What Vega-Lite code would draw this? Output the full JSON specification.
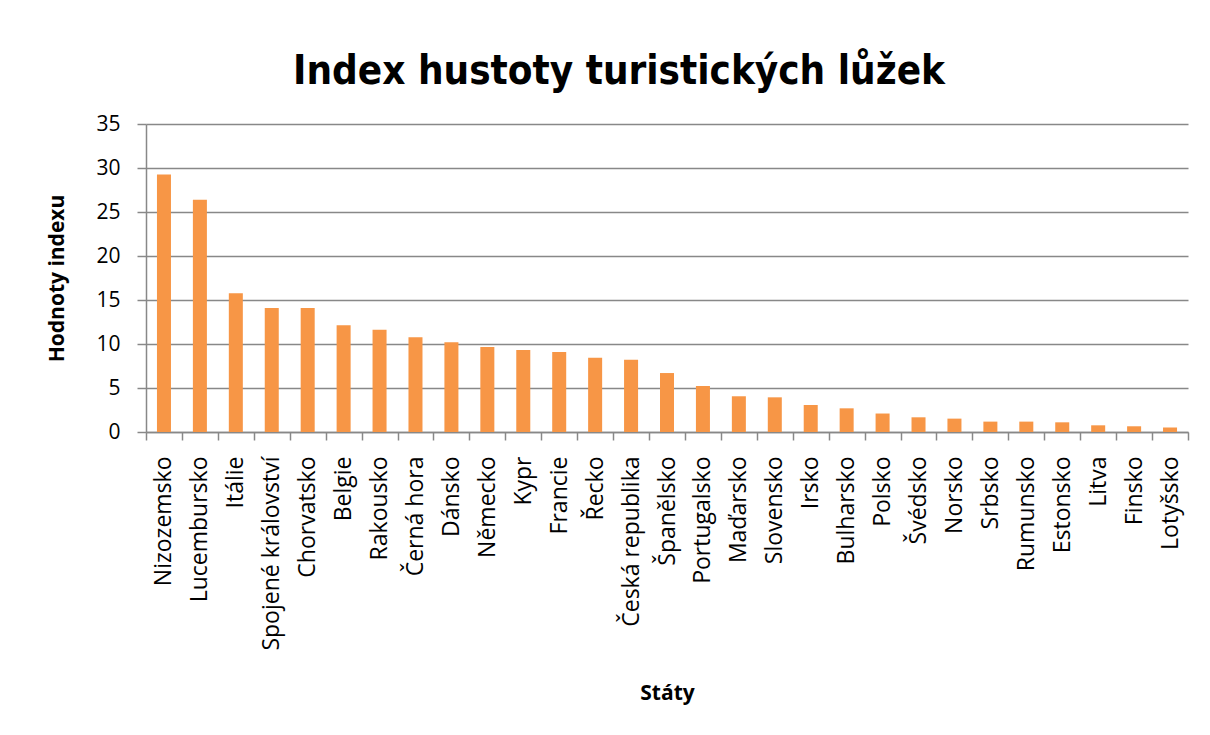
{
  "$schema": "https://vega.github.io/schema/vega-lite/v6.json",
  "width": 1042,
  "height": 308,
  "autosize": {"type": "none"},
  "padding": {"left": 146, "top": 124, "right": 22, "bottom": 303},
  "background": "white",
  "title": {
    "text": "Index hustoty turistických lůžek",
    "font": "DejaVu Sans Condensed, Open Sans",
    "fontSize": 40,
    "fontWeight": "bold",
    "color": "#000000",
    "anchor": "middle",
    "dx": -48,
    "baseline": "alphabetic",
    "offset": 30,
    "dy": 41
  },
  "data": {
    "values": [
      {"stat": "Nizozemsko", "hodnota": 29.25},
      {"stat": "Lucembursko", "hodnota": 26.4},
      {"stat": "Itálie", "hodnota": 15.76},
      {"stat": "Spojené království", "hodnota": 14.1},
      {"stat": "Chorvatsko", "hodnota": 14.1},
      {"stat": "Belgie", "hodnota": 12.12},
      {"stat": "Rakousko", "hodnota": 11.63},
      {"stat": "Černá hora", "hodnota": 10.76},
      {"stat": "Dánsko", "hodnota": 10.19},
      {"stat": "Německo", "hodnota": 9.66},
      {"stat": "Kypr", "hodnota": 9.32},
      {"stat": "Francie", "hodnota": 9.1},
      {"stat": "Řecko", "hodnota": 8.45},
      {"stat": "Česká republika", "hodnota": 8.22},
      {"stat": "Španělsko", "hodnota": 6.7},
      {"stat": "Portugalsko", "hodnota": 5.23},
      {"stat": "Maďarsko", "hodnota": 4.06},
      {"stat": "Slovensko", "hodnota": 3.94},
      {"stat": "Irsko", "hodnota": 3.07},
      {"stat": "Bulharsko", "hodnota": 2.69},
      {"stat": "Polsko", "hodnota": 2.1},
      {"stat": "Švédsko", "hodnota": 1.67},
      {"stat": "Norsko", "hodnota": 1.52},
      {"stat": "Srbsko", "hodnota": 1.18},
      {"stat": "Rumunsko", "hodnota": 1.18},
      {"stat": "Estonsko", "hodnota": 1.1},
      {"stat": "Litva", "hodnota": 0.76},
      {"stat": "Finsko", "hodnota": 0.65},
      {"stat": "Lotyšsko", "hodnota": 0.5}
    ]
  },
  "mark": {"type": "bar", "color": "#F79646", "width": {"band": 0.39}},
  "encoding": {
    "x": {
      "field": "stat",
      "type": "nominal",
      "sort": null,
      "title": "Státy",
      "scale": {"paddingInner": 0, "paddingOuter": 0},
      "axis": {
        "labelAngle": -90,
        "labelAlign": "right",
        "labelBaseline": "middle",
        "labelFont": "Open Sans",
        "labelFontSize": 23,
        "labelColor": "#000000",
        "labelPadding": 16,
        "labelLimit": 0,
        "tickBand": "extent",
        "tickSize": 8,
        "tickColor": "#888888",
        "tickWidth": 1.5,
        "domainColor": "#888888",
        "domainWidth": 1.5,
        "titleFont": "Open Sans",
        "titleFontSize": 21,
        "titleFontWeight": "bold",
        "titleColor": "#000000",
        "titlePadding": 50,
        "labelOverlap": false
      }
    },
    "y": {
      "field": "hodnota",
      "type": "quantitative",
      "title": "Hodnoty indexu",
      "scale": {"domain": [0, 35]},
      "axis": {
        "values": [0, 5, 10, 15, 20, 25, 30, 35],
        "labelFont": "Open Sans",
        "labelFontSize": 21,
        "labelColor": "#000000",
        "labelPadding": 17,
        "tickSize": 9,
        "tickColor": "#888888",
        "tickWidth": 1.5,
        "domainColor": "#888888",
        "domainWidth": 1.5,
        "gridColor": "#888888",
        "gridWidth": 1.5,
        "titleFont": "Open Sans",
        "titleFontSize": 21,
        "titleFontWeight": "bold",
        "titleColor": "#000000",
        "titlePadding": 28
      }
    }
  },
  "config": {"view": {"stroke": null}}
}
